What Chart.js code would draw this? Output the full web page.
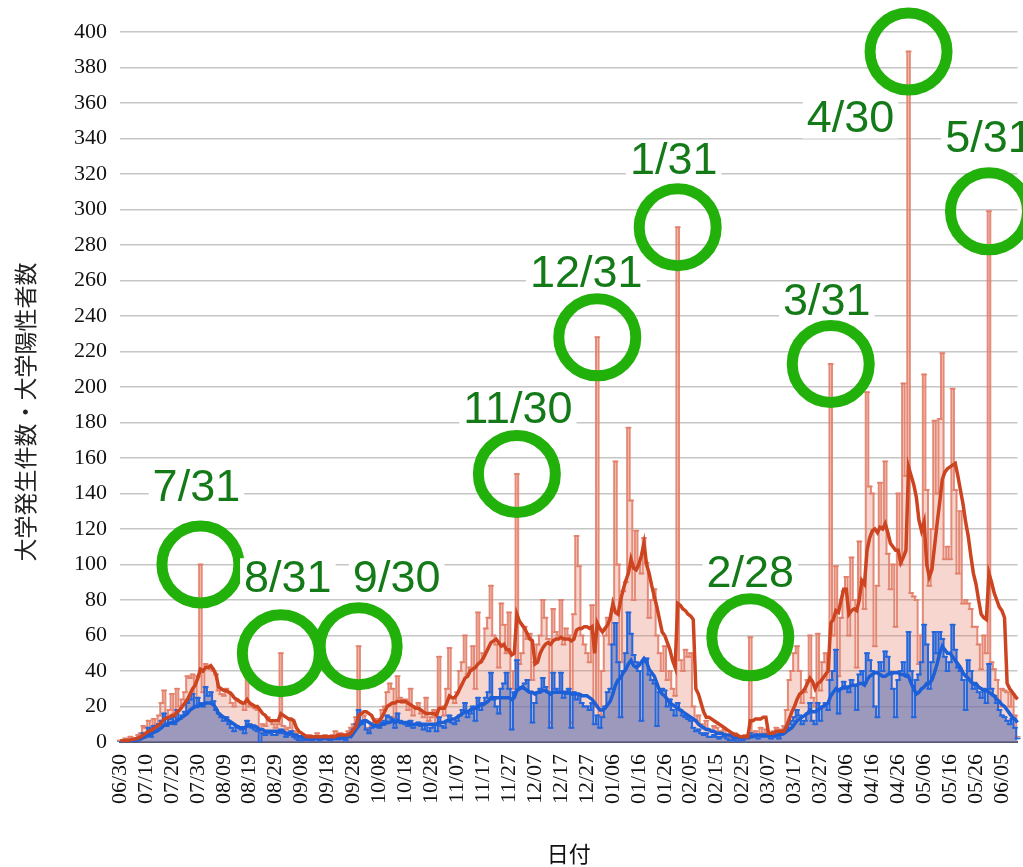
<!DOCTYPE html>
<html lang="ja">
<head>
<meta charset="utf-8">
<title>大学発生件数・大学陽性者数</title>
<script src="https://cdn.jsdelivr.net/npm/chart.js@4.4.1/dist/chart.umd.min.js"></script>
<style>
  html, body { margin: 0; padding: 0; background: #fff; overflow: hidden; }
  canvas { display: block; }
</style>
</head>
<body>
<canvas id="univChart" width="1023" height="867"></canvas>
<script>
// 日別データ 2020/06/30 〜 2021/06/11
const startDate = '2020-06-30';
const dayCount = 347;

// 大学発生件数（日別）
const cases = [
  1,0,2,1,3,0,2,4,5,9,             // 06/30
  8,12,6,13,10,15,22,29,14,18,     // 07/10
  27,16,30,20,24,28,37,36,38,25,   // 07/20
  37,100,28,44,43,41,40,38,29,27,  // 07/30
  26,30,28,22,20,24,23,22,18,38,   // 08/09
  20,21,19,18,0,10,9,14,12,10,     // 08/19
  8,10,50,9,7,8,12,6,5,3,          // 08/29
  2,3,1,4,2,3,5,2,3,4,             // 09/08
  3,2,4,6,3,5,4,2,6,8,             // 09/18
  10,14,54,12,15,8,6,9,11,13,      // 09/28
  12,18,20,28,33,30,14,37,25,22,   // 10/08
  24,18,30,15,20,22,16,14,25,12,   // 10/18
  14,18,10,48,20,15,30,53,25,22,   // 10/28
  28,40,45,60,38,42,54,30,73,45,   // 11/07
  50,64,70,88,60,55,42,78,66,50,   // 11/17
  73,30,40,151,44,50,65,58,61,35,  // 11/27
  45,55,60,80,70,58,11,75,62,60,   // 12/07
  80,55,64,60,11,72,116,99,60,55,  // 12/17
  50,45,77,20,228,15,40,60,70,55,  // 12/27
  75,158,100,45,85,90,177,136,80,119, // 01/06
  100,95,115,101,70,80,86,60,50,40,   // 01/16
  54,35,40,30,26,290,46,40,52,48,  // 01/26
  50,20,12,15,10,8,12,7,6,9,       // 02/05
  8,6,5,7,4,3,2,5,1,3,             // 02/15
  2,4,3,59,5,6,4,8,5,7,            // 02/25
  5,4,6,8,4,7,9,18,35,40,          // 03/07
  50,54,40,22,28,35,60,25,20,61,   // 03/17
  29,45,50,35,213,60,99,37,70,85,  // 03/27
  93,60,104,80,42,113,90,75,197,144,   // 04/06
  140,54,88,146,120,158,106,86,100,65, // 04/16
  140,100,202,150,389,84,82,80,44,60,  // 04/26
  207,142,88,120,181,140,182,219,103,110, // 05/06
  103,199,142,95,130,78,80,78,75,65,   // 05/16
  65,55,41,60,50,299,45,41,35,20,      // 05/26
  30,29,28,20,27,15,3                  // 06/05
];

// 大学陽性者数（日別）
const positives = [
  0,0,1,0,1,0,1,2,3,5,
  4,8,3,9,6,10,12,16,9,13,
  14,10,18,13,15,17,22,24,27,20,
  25,22,20,31,26,28,23,18,16,14,
  12,14,10,8,6,9,8,7,5,12,
  10,8,7,6,0,5,4,6,5,4,
  4,5,7,5,3,4,6,3,2,1,
  1,2,1,2,1,2,3,1,2,2,
  2,1,2,3,2,3,2,1,3,5,
  7,10,18,10,12,7,5,8,9,10,
  8,11,12,15,14,13,8,16,12,11,
  10,9,12,8,10,11,9,7,10,6,
  8,10,6,14,9,8,12,15,11,10,
  12,15,18,22,14,16,20,12,25,18,
  22,25,28,39,24,20,16,30,33,39,
  30,7,28,46,30,31,33,35,28,11,
  22,28,30,36,31,28,8,39,30,28,
  39,25,27,30,8,28,24,27,22,20,
  20,18,22,10,15,8,14,20,28,30,
  55,67,45,14,40,50,73,61,49,45,
  40,12,45,47,38,35,33,9,28,30,
  29,20,24,18,15,22,18,15,14,13,
  12,8,6,7,5,4,5,3,3,4,
  3,2,3,4,2,1,1,2,0,2,
  1,2,2,5,3,4,2,4,3,4,
  3,2,3,4,2,4,5,8,10,12,
  14,18,15,10,12,16,22,12,10,22,
  12,20,22,18,35,40,52,16,30,34,
  30,28,35,32,18,38,40,33,50,46,
  40,20,14,45,40,51,48,38,30,14,
  35,40,45,38,62,40,14,35,38,45,
  66,55,30,45,62,50,62,58,48,40,
  45,66,52,42,40,35,18,46,40,30,
  32,28,25,30,22,44,30,26,22,18,
  15,14,12,10,13,8,2
];

// 7日平均（発生件数）
const casesAvg = [
  0.5,0.5,0.8,1,1.2,1.5,1.8,2.2,3,4,
  5,6,6.5,7.5,8.5,9.5,11,13,13.5,14,
  15,15,17,18,20,22,24,27,30,32,
  36,41,40,42,42,43,41,38,31,30,
  29,29,28,27,25,24,23,22,22,24,
  22,21,20,20,18,16,15,13,12,12,
  12,12,16,15,14,13,13,12,8,6,
  5,4,3,3,3,3,3,3,3,3,
  3,3,3,3,4,4,4,4,4,5,
  7,9,15,16,17,17,16,15,12,11,
  12,14,17,20,21,22,22,23,23,23,
  23,22,21,20,19,19,18,17,16,16,
  16,16,15,19,19,19,22,26,25,25,
  27,30,33,36,37,40,41,42,44,45,
  47,50,53,56,57,58,56,54,55,52,
  52,49,50,72,68,66,64,61,58,57,
  44,45,50,53,55,56,55,57,58,58,
  59,58,58,58,57,58,63,64,64,65,
  65,64,65,50,67,64,62,64,66,70,
  78,73,72,80,86,91,95,103,98,97,
  100,105,112,100,95,88,82,76,69,62,
  60,56,52,46,42,78,77,75,74,72,
  71,69,30,27,22,17,14,14,13,12,
  11,10,9,8,7,6,5,4,4,3,
  3,3,3,12,12,13,13,13,14,14,
  5,5,5,6,6,6,6,9,13,17,
  20,24,27,28,30,33,36,34,30,33,
  34,36,38,40,67,69,74,73,80,86,
  86,72,74,75,74,80,91,89,108,115,
  119,120,118,121,120,123,118,112,110,108,
  108,101,104,108,155,150,145,138,125,119,
  124,100,93,97,110,123,135,148,152,154,
  155,156,157,150,142,134,124,116,105,95,
  89,80,72,70,69,95,90,84,80,76,
  74,70,33,30,28,26,24
];

// 7日平均（陽性者数）
const positivesAvg = [
  0,0,0.3,0.4,0.6,0.8,1,1.3,1.8,2.5,
  3,4,4.5,5.5,6,7,8,9.5,10,10.5,
  11,11,12,13,14,15,16,18,19,20,
  20,21,21,22,22,22,21,19,16,15,
  14,13,12,11,10,9,8,8,8,9,
  9,9,9,8,7,7,6,6,6,6,
  6,6,6,6,5,5,5,4,4,3,
  3,3,2,2,2,2,2,2,2,2,
  2,2,2,2,2,2,3,3,3,3,
  5,7,9,11,12,12,11,10,9,9,
  9,10,10,11,11,12,11,12,11,11,
  11,11,10,10,10,10,10,10,10,10,
  10,10,10,11,11,11,12,12,13,13,
  14,15,16,17,17,18,19,19,20,21,
  21,22,23,25,25,25,25,25,25,25,
  25,24,25,29,30,31,30,29,28,28,
  27,28,28,29,29,28,27,28,28,28,
  28,28,28,28,27,27,27,27,26,26,
  26,25,24,22,20,18,18,19,21,23,
  27,32,35,36,39,41,44,46,43,42,
  43,45,47,45,41,39,37,33,29,27,
  26,24,22,21,20,19,18,17,16,15,
  14,13,12,10,9,8,7,7,6,6,
  5,5,5,4,4,4,3,3,3,3,
  3,3,3,3,3,4,4,4,4,4,
  4,4,4,4,4,5,5,6,7,8,
  10,12,13,14,15,16,18,17,17,18,
  19,20,21,22,26,28,30,29,30,31,
  31,31,32,32,32,33,33,32,35,37,
  38,39,39,38,37,37,38,39,39,39,
  39,38,38,37,37,33,30,27,28,30,
  31,33,33,35,39,44,50,54,52,50,
  50,48,46,44,42,39,37,36,34,33,
  33,31,30,29,29,28,27,26,24,23,
  21,20,18,16,14,13,11
];

// 月末の丸印
const markDays = ['07/31','08/31','09/30','11/30','12/31','01/31','02/28','03/31','04/30','05/31'];
const markTexts = ['7/31','8/31','9/30','11/30','12/31','1/31','2/28','3/31','4/30','5/31'];
// 文字の位置（丸の中心からのずれ）
const markTextShift = [[-4,-77],[7,-75],[38,-68],[1,-64],[-11,-64],[-4,-67],[0,-64],[-4,-62],[-58,67],[0,-73]];

function makeLabels() {
  const out = [];
  const d = new Date(startDate + 'T00:00:00Z');
  for (let i = 0; i < dayCount; i++) {
    const mm = String(d.getUTCMonth() + 1).padStart(2, '0');
    const dd = String(d.getUTCDate()).padStart(2, '0');
    out.push(mm + '/' + dd);
    d.setUTCDate(d.getUTCDate() + 1);
  }
  return out;
}
const dayLabels = makeLabels();

const marksPlugin = {
  id: 'marks',
  afterDatasetsDraw(chart) {
    const ctx = chart.ctx;
    const xs = chart.scales.x, ys = chart.scales.y;
    ctx.save();
    ctx.font = '45px "Liberation Sans", Arial, sans-serif';
    ctx.textAlign = 'center';
    ctx.textBaseline = 'middle';
    markDays.forEach((day, k) => {
      const idx = dayLabels.indexOf(day);
      const cx = xs.getPixelForValue(idx);
      const cy = ys.getPixelForValue(cases[idx]);
      const tx = cx + markTextShift[k][0];
      const ty = cy + markTextShift[k][1];
      const w = ctx.measureText(markTexts[k]).width;
      ctx.fillStyle = '#ffffff';
      ctx.fillRect(tx - w / 2 - 4, ty - 20, w + 8, 40);
      ctx.fillStyle = '#137a17';
      ctx.fillText(markTexts[k], tx, ty + 1);
      ctx.beginPath();
      ctx.arc(cx, cy, 38.5, 0, Math.PI * 2);
      ctx.lineWidth = 11;
      ctx.strokeStyle = '#22b00a';
      ctx.stroke();
    });
    ctx.restore();
  },
  afterDraw(chart) {
    const ctx = chart.ctx;
    ctx.save();
    ctx.translate(25, 412);
    ctx.rotate(-Math.PI / 2);
    ctx.font = '23px "Noto Sans CJK JP", sans-serif';
    ctx.fillStyle = '#222';
    ctx.textAlign = 'center';
    ctx.textBaseline = 'middle';
    ctx.fillText('大学発生件数・大学陽性者数', 0, 0);
    ctx.restore();
  }
};

const serifFont = { family: '"Liberation Serif", "Times New Roman", serif', size: 22 };

const ctx = document.getElementById('univChart').getContext('2d');
const univChart = new Chart(ctx, {
  type: 'line',
  data: {
    labels: dayLabels,
    datasets: [
      {
        label: '発生件数（7日平均）',
        data: casesAvg,
        borderColor: '#cd4420',
        borderWidth: 3.5,
        pointRadius: 0,
        fill: false
      },
      {
        label: '陽性者数（7日平均）',
        data: positivesAvg,
        borderColor: '#1c5fd6',
        borderWidth: 3.5,
        pointRadius: 0,
        fill: false
      },
      {
        label: '大学陽性者数',
        data: positives,
        stepped: 'middle',
        borderColor: '#2466dc',
        borderWidth: 2,
        backgroundColor: 'rgba(96,111,175,0.6)',
        fill: 'origin',
        pointStyle: 'line',
        pointRadius: 3,
        pointBorderWidth: 1.5,
        pointBorderColor: '#2466dc'
      },
      {
        label: '大学発生件数',
        data: cases,
        stepped: 'middle',
        borderColor: 'rgba(226,128,106,0.9)',
        borderWidth: 2,
        backgroundColor: 'rgba(230,120,100,0.3)',
        fill: 'origin',
        pointStyle: 'line',
        pointRadius: 3,
        pointBorderWidth: 1.5,
        pointBorderColor: 'rgba(226,128,106,0.9)'
      }
    ]
  },
  options: {
    responsive: false,
    animation: false,
    devicePixelRatio: 1,
    layout: { padding: { top: 32, right: 5, left: 0, bottom: 0 } },
    plugins: {
      legend: { display: false },
      tooltip: { enabled: false },
      filler: { drawTime: 'beforeDatasetsDraw' }
    },
    elements: { line: { tension: 0 } },
    scales: {
      x: {
        offset: false,
        grid: { display: false, drawTicks: false },
        border: { display: true, color: '#5a5870', width: 2 },
        ticks: {
          autoSkip: false,
          minRotation: 90,
          maxRotation: 90,
          padding: 12,
          color: '#111',
          font: serifFont,
          callback: function (val, i) {
            return i % 10 === 0 ? this.getLabelForValue(val) : '';
          }
        },
        title: {
          display: true,
          text: '日付',
          color: '#111',
          font: { family: '"Noto Sans CJK JP", sans-serif', size: 22 },
          padding: { top: 4, bottom: 0 }
        },
        afterFit: s => {
          s.height = 125;
          s.paddingLeft = 0;
          s.paddingRight = 0;
        }
      },
      y: {
        min: 0,
        max: 400,
        grid: { color: '#c6c6c6', lineWidth: 1.5, drawTicks: false },
        border: { display: false },
        ticks: {
          stepSize: 10,
          padding: 13,
          color: '#111',
          font: serifFont,
          callback: v => (v % 20 === 0 ? v : '')
        },
        afterFit: s => { s.width = 120; }
      }
    }
  },
  plugins: [marksPlugin]
});
</script>
</body>
</html>
